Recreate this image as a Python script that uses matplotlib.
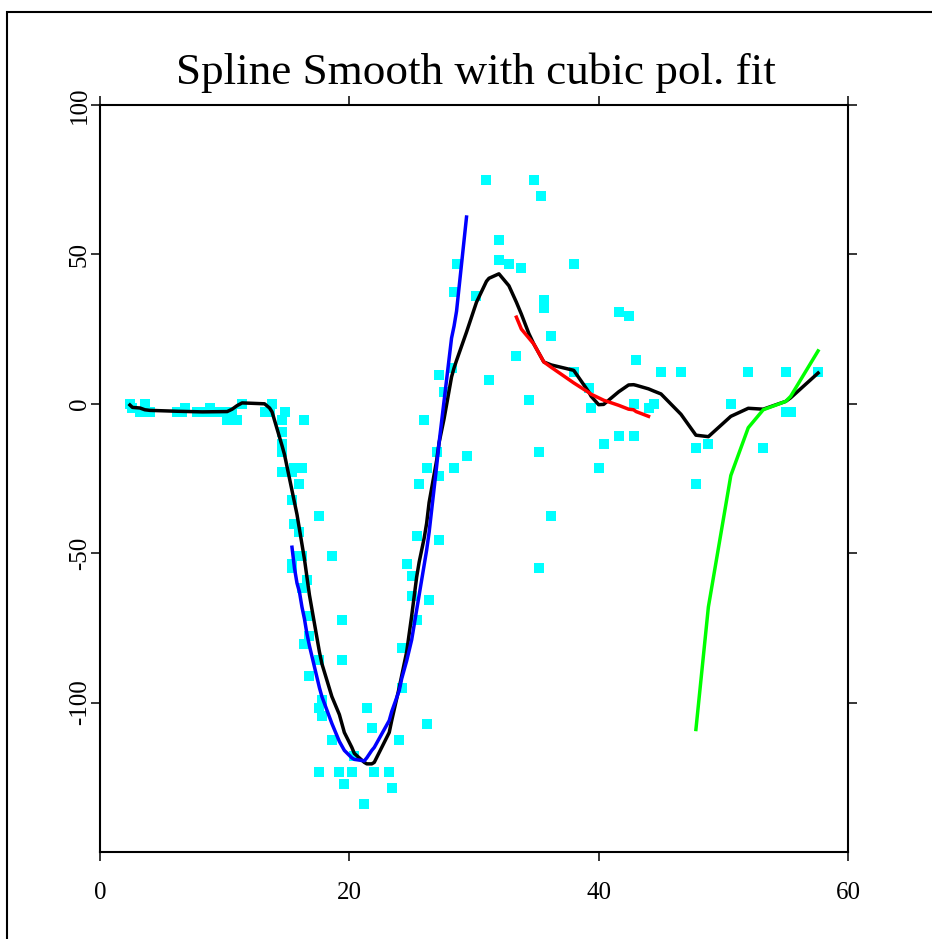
import matplotlib
matplotlib.use("Agg")
import matplotlib.pyplot as plt
from matplotlib.patches import Rectangle

plt.rcParams['font.family'] = ['Liberation Serif', 'DejaVu Serif']

# motorcycle data: time (ms) and head acceleration (g)
times = [2.4, 2.6, 3.2, 3.6, 4.0, 6.2, 6.6, 6.8, 7.8, 8.2, 8.8, 8.8, 9.6, 10.0, 10.2, 10.6, 11.0, 11.4,
         13.2, 13.6, 13.8, 14.6, 14.6, 14.6, 14.6, 14.6, 14.6, 14.8, 15.4, 15.4, 15.4, 15.4, 15.6, 15.6,
         15.8, 15.8, 16.0, 16.0, 16.2, 16.2, 16.2, 16.4, 16.4, 16.6, 16.8, 16.8, 16.8, 17.6, 17.6, 17.6,
         17.6, 17.8, 17.8, 18.6, 18.6, 19.2, 19.4, 19.4, 19.6, 20.2, 20.4, 21.2, 21.4, 21.8, 22.0, 23.2,
         23.4, 24.0, 24.2, 24.2, 24.6, 25.0, 25.0, 25.4, 25.4, 25.6, 26.0, 26.2, 26.2, 26.4, 27.0, 27.2,
         27.2, 27.2, 27.6, 28.2, 28.4, 28.4, 28.6, 29.4, 30.2, 31.0, 31.2, 32.0, 32.0, 32.8, 33.4, 33.8,
         34.4, 34.8, 35.2, 35.2, 35.4, 35.6, 35.6, 36.2, 36.2, 38.0, 38.0, 39.2, 39.4, 40.0, 40.4, 41.6,
         41.6, 42.4, 42.8, 42.8, 43.0, 44.0, 44.4, 45.0, 46.6, 47.8, 47.8, 48.8, 50.6, 52.0, 53.2, 55.0,
         55.0, 55.4, 57.6]
accel = [0.0, -1.3, -2.7, 0.0, -2.7, -2.7, -2.7, -1.3, -2.7, -2.7, -1.3, -2.7, -2.7, -2.7, -5.4, -2.7,
         -5.4, 0.0, -2.7, -2.7, 0.0, -13.3, -5.4, -5.4, -9.3, -16.0, -22.8, -2.7, -22.8, -32.1, -53.5,
         -54.9, -40.2, -21.5, -21.5, -50.8, -42.9, -26.8, -21.5, -50.8, -61.7, -5.4, -80.4, -59.0, -71.0,
         -91.1, -77.7, -37.5, -85.6, -123.1, -101.9, -99.1, -104.4, -112.5, -50.8, -123.1, -85.6, -72.3,
         -127.2, -123.1, -117.9, -134.0, -101.9, -108.4, -123.1, -123.1, -128.5, -112.5, -95.1, -81.8,
         -53.5, -64.4, -57.6, -72.3, -44.3, -26.8, -5.4, -107.1, -21.5, -65.6, -16.0, -45.6, -24.2, 9.5,
         4.0, 12.0, -21.5, 37.5, 46.9, -17.4, 36.2, 75.0, 8.1, 54.9, 48.2, 46.9, 16.0, 45.6, 1.3, 75.0,
         -16.0, -54.9, 69.6, 34.8, 32.1, -37.5, 22.8, 46.9, 10.7, 5.4, -1.3, -21.5, -13.3, 30.8, -10.7,
         29.4, 0.0, -10.7, 14.7, -1.3, 0.0, 10.7, 10.7, -26.8, -14.7, -13.3, 0.0, 10.7, -14.7, -2.7, 10.7,
         -2.7, 10.7]

# spline smooth
smooth_x = [2.4, 2.6, 3.2, 3.6, 4.0, 6.2, 8.2, 10.2, 10.6, 11.0, 11.4, 13.2, 13.6, 13.8, 14.6, 14.8,
            15.4, 15.6, 15.8, 16.0, 16.2, 16.4, 16.6, 16.8, 17.6, 17.8, 18.6, 19.2, 19.4, 19.6, 20.2,
            20.4, 21.2, 21.4, 21.8, 22.0, 23.2, 23.4, 24.0, 24.2, 24.6, 25.0, 25.4, 25.6, 26.0, 26.2,
            26.4, 27.0, 27.2, 27.6, 28.2, 28.4, 28.6, 29.4, 30.2, 31.0, 31.2, 32.0, 32.8, 33.4, 33.8,
            34.4, 34.8, 35.2, 35.4, 35.6, 36.2, 38.0, 39.2, 39.4, 40.0, 40.4, 41.6, 42.4, 42.8, 43.0,
            44.0, 44.4, 45.0, 46.6, 47.8, 48.8, 50.6, 52.0, 53.2, 55.0, 55.4, 57.6]
smooth_y = [-0.4, -1.2, -1.4, -2.0, -2.2, -2.5, -2.7, -2.6, -1.8, -0.6, 0.3, 0.0, -1.4, -2.7, -14.0,
            -17.0, -29.0, -33.0, -37.0, -42.0, -47.0, -52.0, -58.0, -64.0, -83.0, -87.0, -98.0, -104.0,
            -107.0, -110.0, -115.0, -117.0, -120.0, -120.5, -120.5, -120.0, -110.0, -106.0, -95.0, -91.0,
            -83.0, -71.0, -58.0, -53.0, -45.0, -40.0, -33.0, -19.0, -13.0, -5.0, 9.0, 12.0, 14.5, 24.0,
            34.0, 41.0, 42.0, 43.5, 39.5, 34.0, 30.0, 23.5, 20.0, 17.0, 15.5, 14.0, 13.0, 11.2, 4.0, 2.5,
            -0.3, -0.2, 4.0, 6.3, 6.4, 6.2, 5.0, 4.3, 3.3, -3.5, -10.5, -11.0, -4.2, -1.5, -1.8, 0.8,
            2.0, 10.3]

# cubic polynomial fits on three sections
blue_x = [15.4, 15.6, 15.8, 16.0, 16.2, 16.4, 16.6, 16.8, 17.6, 17.8, 18.6, 19.2, 19.4, 19.6, 20.2,
          20.4, 21.2, 21.4, 21.8, 22.0, 23.2, 23.4, 24.0, 24.2, 24.6, 25.0, 25.4, 25.6, 26.0, 26.2,
          26.4, 27.0, 27.2, 27.6, 28.2, 28.4, 28.6, 29.4]
blue_y = [-48.0, -55.0, -60.0, -63.0, -68.0, -72.0, -77.0, -81.0, -95.0, -98.0, -107.0, -113.0,
          -114.5, -116.0, -118.5, -119.0, -119.5, -118.5, -116.0, -115.0, -106.0, -103.0, -96.0, -92.0,
          -86.0, -79.0, -69.0, -64.0, -54.0, -49.0, -43.0, -21.0, -13.0, 1.0, 22.0, 26.0, 31.0, 62.5]
red_x = [33.4, 33.8, 34.4, 34.8, 35.2, 35.4, 35.6, 36.2, 38.0, 39.2, 39.4, 40.0, 40.4, 41.6, 42.4,
         42.8, 43.0, 44.0]
red_y = [29.0, 25.0, 22.0, 20.0, 17.0, 15.5, 14.0, 12.2, 7.0, 3.8, 3.2, 2.0, 1.2, -0.5, -1.8, -2.0,
         -2.6, -4.2]
green_x = [47.8, 48.8, 50.6, 52.0, 53.2, 55.0, 55.4, 57.6]
green_y = [-109.0, -68.0, -24.0, -8.0, -2.0, 0.8, 2.5, 17.7]

xticks = [0, 20, 40, 60]
yticks = [-100, -50, 0, 50, 100]

fig = plt.figure(figsize=(9.32, 9.39), dpi=100)
ax = fig.add_axes([100 / 932, 1 - 852 / 939, 748 / 932, 747 / 939])

ax.scatter(times, accel, marker='s', s=50, color='#00ffff', linewidths=0, zorder=2)
ax.plot(smooth_x, smooth_y, color='black', lw=2.5, zorder=3)
ax.plot(blue_x, blue_y, color='#0000ff', lw=2.5, zorder=3)
ax.plot(red_x, red_y, color='#ff0000', lw=2.5, zorder=3)
ax.plot(green_x, green_y, color='#00ff00', lw=2.5, zorder=3)

ax.set_xlim(0, 60)
ax.set_ylim(-150, 100)
ax.set_xticks(xticks)
ax.set_yticks(yticks)
ax.set_xticklabels([str(v) for v in xticks])
ax.set_yticklabels([str(v) for v in yticks], rotation=90, va='center')
ax.tick_params(direction='out', length=6.5, width=1.1, labelsize=18,
               top=True, right=True, labeltop=False, labelright=False)
ax.tick_params(axis='x', pad=15)
ax.tick_params(axis='y', pad=0)
for sp in ax.spines.values():
    sp.set_linewidth(1.5)

fig.text(476 / 932, 1 - 84 / 939, "Spline Smooth with cubic pol. fit",
         ha='center', va='baseline', fontsize=32.5)

# outer frame
fig.patches.append(Rectangle((7 / 932, -0.1), 1.2, 0.1 + 1 - 12 / 939, transform=fig.transFigure,
                             fill=False, edgecolor='black', lw=1.5))

fig.savefig("out.png", dpi=100)
